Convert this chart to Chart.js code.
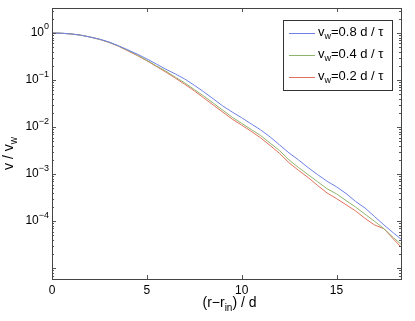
<!DOCTYPE html>
<html>
<head>
<meta charset="utf-8">
<script src="https://cdn.jsdelivr.net/npm/chart.js@4/dist/chart.umd.min.js"></script>
<style>
  html, body { margin: 0; padding: 0; background: #fff; }
  #wrap { width: 415px; height: 321px; }
</style>
</head>
<body>
<div id="wrap"><canvas id="c" width="415" height="321"></canvas></div>
<script>
// x positions (r - r_in) / d
const xs = [0, 0.5, 1, 1.5, 2, 2.5, 3, 3.5, 4, 4.5, 5, 5.5, 6, 6.5, 7, 7.5, 8, 8.5, 9, 9.5,
            10, 10.5, 11, 11.5, 12, 12.5, 13, 13.5, 14, 14.5, 15, 15.5, 16, 16.5, 17, 17.5, 18, 18.4];

// v / v_w for v_w = 0.8 d/tau
const v08 = [1, 0.9886, 0.955, 0.902, 0.822, 0.741, 0.646, 0.537, 0.437, 0.355, 0.282, 0.219, 0.170, 0.135,
             0.105, 0.0776, 0.0562, 0.0398, 0.0282, 0.0209, 0.0158, 0.0117, 0.00871, 0.00617, 0.00417,
             0.00282, 0.00200, 0.00138, 0.000977, 0.000708, 0.000537, 0.000389, 0.000263, 0.000191,
             0.000126, 0.0000832, 0.0000562, 0.0000417];

// v / v_w for v_w = 0.4 d/tau
const v04 = [1, 0.9886, 0.955, 0.902, 0.822, 0.736, 0.638, 0.531, 0.427, 0.339, 0.263, 0.200, 0.155, 0.115,
             0.0871, 0.0631, 0.0457, 0.0324, 0.0229, 0.0162, 0.0120, 0.00891, 0.00661, 0.00457, 0.00316,
             0.00200, 0.00138, 0.000977, 0.000692, 0.000490, 0.000380, 0.000275, 0.000200, 0.000141,
             0.000100, 0.0000692, 0.0000447, 0.0000324];

// v / v_w for v_w = 0.2 d/tau
const v02 = [1, 0.9886, 0.955, 0.902, 0.822, 0.733, 0.631, 0.525, 0.417, 0.331, 0.257, 0.195, 0.148, 0.110,
             0.0813, 0.0589, 0.0417, 0.0295, 0.0209, 0.0148, 0.0110, 0.00813, 0.00589, 0.00407, 0.00275,
             0.00174, 0.00120, 0.000851, 0.000575, 0.000398, 0.000302, 0.000224, 0.000166, 0.000115,
             0.0000832, 0.0000692, 0.0000417, 0.0000282];

const seriesNames = ['0.8', '0.4', '0.2'];
const seriesColors = ['#6e80e6', '#8fb46e', '#e2705c'];
const xTicks = [0, 5, 10, 15];
const yDecades = [0, -1, -2, -3, -4];

const FONT = '"Liberation Sans", Arial, sans-serif';

function points(vals) {
    return xs.map((x, i) => ({ x: x, y: vals[i] }));
}

// draws the box, inward ticks, tick labels, axis titles and the legend
const matlabAxes = {
    id: 'matlabAxes',
    afterDraw(chart) {
        const { ctx, chartArea: a, scales: { x, y } } = chart;
        ctx.save();

        // ticks pointing inward, on all four sides
        ctx.strokeStyle = '#555';
        ctx.lineWidth = 1;
        ctx.beginPath();
        xTicks.forEach(t => {
            const px = Math.round(x.getPixelForValue(t)) + 0.5;
            ctx.moveTo(px, a.bottom); ctx.lineTo(px, a.bottom - 4);
            ctx.moveTo(px, a.top); ctx.lineTo(px, a.top + 4);
        });
        for (let k = -6; k <= 1; k++) {
            for (let m = 1; m <= 9; m++) {
                const v = m * Math.pow(10, k);
                if (v < y.min || v > y.max) continue;
                const py = Math.round(y.getPixelForValue(v)) + 0.5;
                const len = m === 1 ? 4 : 2;
                ctx.moveTo(a.left, py); ctx.lineTo(a.left + len, py);
                ctx.moveTo(a.right, py); ctx.lineTo(a.right - len, py);
            }
        }
        ctx.stroke();

        // frame
        ctx.strokeStyle = '#444';
        ctx.strokeRect(Math.round(a.left) + 0.5, Math.round(a.top) + 0.5,
                       Math.round(a.right - a.left), Math.round(a.bottom - a.top));

        ctx.fillStyle = '#000';
        ctx.textBaseline = 'middle';

        // x tick labels
        ctx.font = '12px ' + FONT;
        ctx.textAlign = 'center';
        xTicks.forEach(t => {
            ctx.fillText(String(t), x.getPixelForValue(t), a.bottom + 12);
        });

        // y tick labels 10^k
        yDecades.forEach(k => {
            const py = y.getPixelForValue(Math.pow(10, k));
            const exp = k === 0 ? '0' : '\u2212' + Math.abs(k);
            ctx.font = '9px ' + FONT;
            const we = ctx.measureText(exp).width;
            ctx.textAlign = 'left';
            const ex = a.left - 3 - we;
            ctx.fillText(exp, ex, py - 6);
            ctx.font = '12px ' + FONT;
            ctx.textAlign = 'right';
            ctx.fillText('10', ex, py);
        });

        // x title: (r−r_in) / d
        ctx.font = '14px ' + FONT;
        ctx.textAlign = 'left';
        ctx.textBaseline = 'alphabetic';
        const p1 = '(r\u2212r', p3 = ') / d';
        ctx.font = '10px ' + FONT;
        const wSub = ctx.measureText('in').width;
        ctx.font = '14px ' + FONT;
        const w1 = ctx.measureText(p1).width, w3 = ctx.measureText(p3).width;
        let tx = (a.left + a.right) / 2 + 3 - (w1 + wSub + w3) / 2;
        const ty = a.bottom + 28;
        ctx.fillText(p1, tx, ty);
        ctx.font = '10px ' + FONT;
        ctx.fillText('in', tx + w1, ty + 4);
        ctx.font = '14px ' + FONT;
        ctx.fillText(p3, tx + w1 + wSub, ty);

        // y title: v / v_w
        ctx.save();
        ctx.translate(13, (a.top + a.bottom) / 2 + 10);
        ctx.rotate(-Math.PI / 2);
        ctx.font = '14px ' + FONT;
        const q1 = 'v / v';
        const wq1 = ctx.measureText(q1).width;
        ctx.font = '10px ' + FONT;
        const wq2 = ctx.measureText('w').width;
        let qx = -(wq1 + wq2) / 2;
        ctx.font = '14px ' + FONT;
        ctx.fillText(q1, qx, 0);
        ctx.font = '10px ' + FONT;
        ctx.fillText('w', qx + wq1, 4);
        ctx.restore();

        // legend
        const lx = 283, ly = 20, lw = 109, lh = 70;
        ctx.fillStyle = '#fff';
        ctx.fillRect(lx, ly, lw, lh);
        ctx.strokeStyle = '#333';
        ctx.strokeRect(lx + 0.5, ly + 0.5, lw, lh);
        seriesNames.forEach((name, i) => {
            const ry = ly + 13 + i * 22;
            ctx.strokeStyle = seriesColors[i];
            ctx.beginPath();
            ctx.moveTo(lx + 6, ry + 0.5); ctx.lineTo(lx + 32, ry + 0.5);
            ctx.stroke();
            ctx.fillStyle = '#000';
            ctx.textBaseline = 'middle';
            ctx.font = '13px ' + FONT;
            let sx = lx + 35;
            ctx.fillText('v', sx, ry - 1);
            sx += ctx.measureText('v').width;
            ctx.font = '9px ' + FONT;
            ctx.fillText('w', sx, ry + 4);
            sx += ctx.measureText('w').width;
            ctx.font = '13px ' + FONT;
            ctx.fillText('=' + name + ' d / \u03c4', sx, ry - 1);
        });

        ctx.restore();
    }
};

new Chart(document.getElementById('c').getContext('2d'), {
    type: 'line',
    data: {
        datasets: seriesNames.map((name, i) => ({
            label: 'v_w=' + name + ' d / \u03c4',
            data: points([v08, v04, v02][i]),
            borderColor: seriesColors[i],
            borderWidth: 1,
            pointRadius: 0,
            tension: 0,
            fill: false
        }))
    },
    options: {
        responsive: false,
        animation: false,
        layout: { padding: { top: 8, right: 14, left: 0, bottom: 0 } },
        plugins: { legend: { display: false }, tooltip: { enabled: false } },
        scales: {
            x: {
                type: 'linear', min: 0, max: 18.4,
                grid: { display: false }, border: { display: false },
                ticks: { display: false },
                afterFit(s) { s.height = 42; }
            },
            y: {
                type: 'logarithmic', min: 5.9e-6, max: 3.4,
                grid: { display: false }, border: { display: false },
                ticks: { display: false },
                afterFit(s) { s.width = 52; }
            }
        }
    },
    plugins: [matlabAxes]
});
</script>
</body>
</html>
